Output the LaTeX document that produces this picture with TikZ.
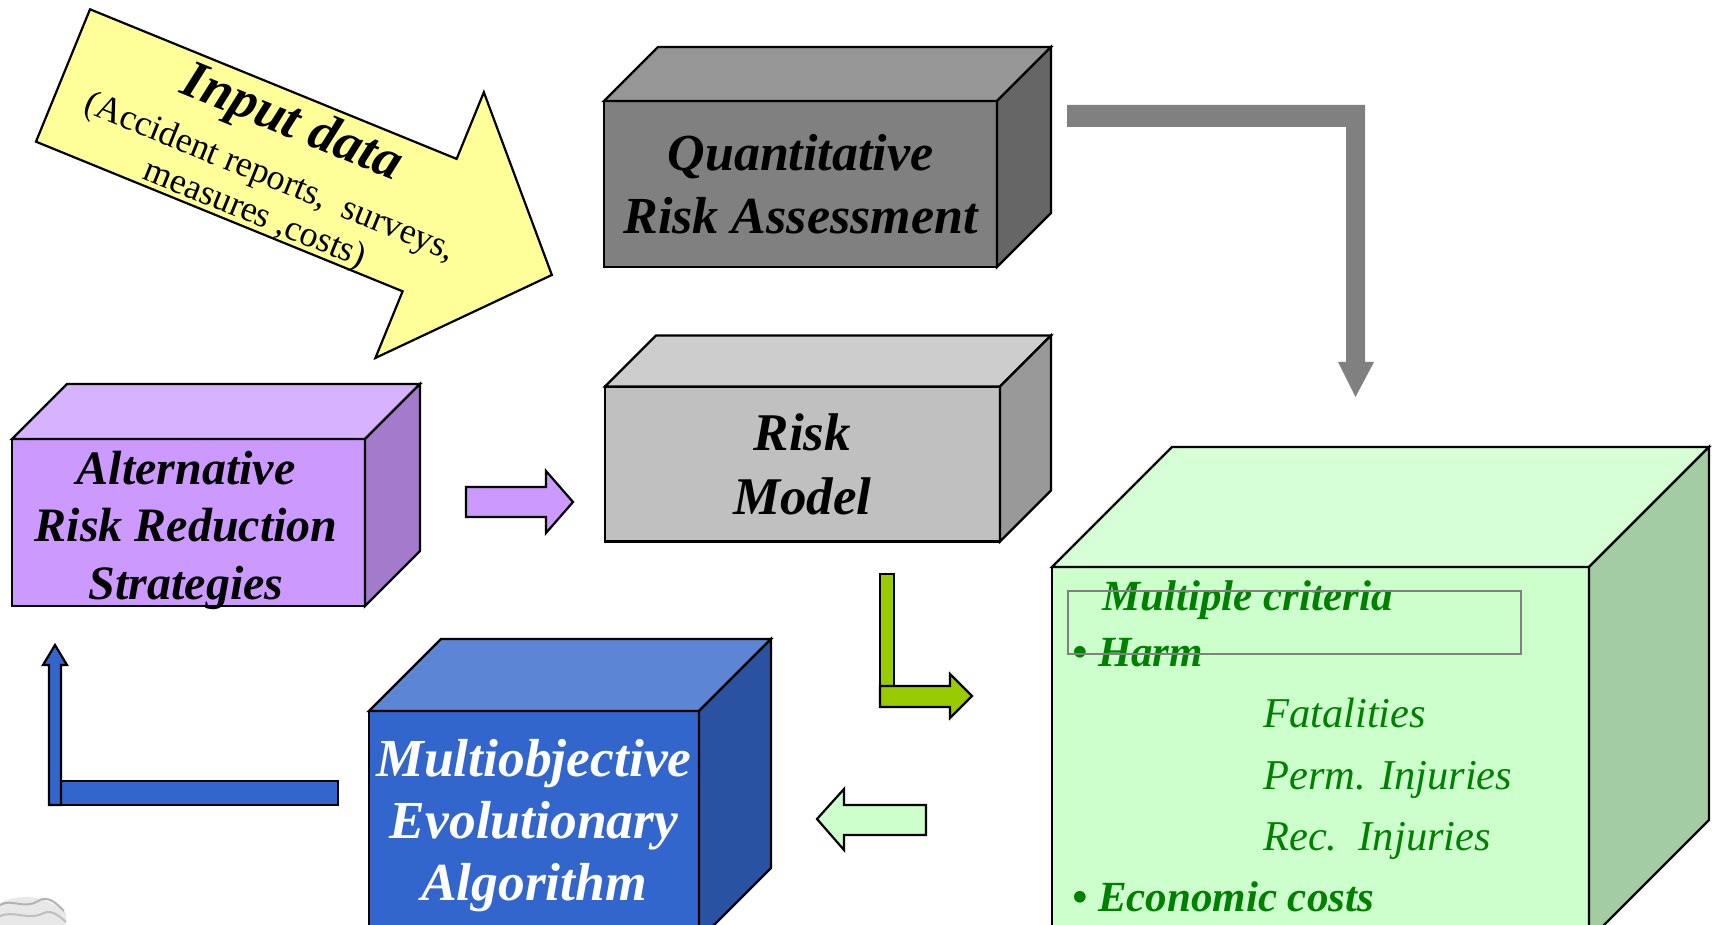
\documentclass[tikz,border=0pt]{standalone}
\usepackage{fontspec}
\setmainfont{Liberation Serif}
\usetikzlibrary{calc}

\definecolor{qrafront}{HTML}{808080}
\definecolor{qratop}{HTML}{969696}
\definecolor{qraside}{HTML}{666666}
\definecolor{rmfront}{HTML}{C0C0C0}
\definecolor{rmtop}{HTML}{CDCDCD}
\definecolor{rmside}{HTML}{999999}
\definecolor{altfront}{HTML}{CC99FF}
\definecolor{alttop}{HTML}{D7B3FF}
\definecolor{altside}{HTML}{A37ACC}
\definecolor{moeafront}{HTML}{3366CC}
\definecolor{moeatop}{HTML}{5C85D6}
\definecolor{moeaside}{HTML}{2952A3}
\definecolor{critfront}{HTML}{CCFFCC}
\definecolor{crittop}{HTML}{D6FFD6}
\definecolor{critside}{HTML}{A3CCA3}
\definecolor{inputyellow}{HTML}{FFFF99}
\definecolor{limegreen}{HTML}{99CC00}
\definecolor{critgreen}{HTML}{008000}

\begin{document}
\begin{tikzpicture}[x=1pt, y=1pt,
      cube/.style={draw, line width=2.2pt, inner sep=0pt, outer sep=0pt, align=center},
      face/.style={draw, line width=2.2pt},
      blockarrow/.style={draw, line width=2.2pt},
      crit/.style={text=critgreen, anchor=base west, inner sep=0pt},
      critbold/.style={crit, font=\bfseries\itshape\fontsize{43}{48}\selectfont},
      critsub/.style={crit, font=\itshape\fontsize{42.5}{48}\selectfont}
    ]
      \clip (0,0) rectangle (1712,925);

      % cube fronts
      \node[cube, fill=qrafront, minimum width=393pt, minimum height=166pt,
            font=\bfseries\itshape\fontsize{52}{63}\selectfont]
        (qra) at (800.5,741) {Quantitative\\Risk Assessment};
      \node[cube, fill=rmfront, minimum width=395pt, minimum height=155pt,
            font=\bfseries\itshape\fontsize{53}{64}\selectfont]
        (rm) at (802.5,461) {Risk\\Model};
      \node[cube, fill=altfront, minimum width=353pt, minimum height=167pt]
        (alt) at (188.5,402.5) {};
      \node[align=center, font=\bfseries\itshape\fontsize{48}{57.5}\selectfont]
        (alttext) at (186,395) {Alternative\\Risk Reduction\\Strategies};
      \node[cube, fill=moeafront, minimum width=330pt, minimum height=229pt,
            text=white, font=\bfseries\itshape\fontsize{53.5}{62}\selectfont]
        (moea) at (534,99.5) {Multiobjective\\Evolutionary\\Algorithm};
      \node[cube, fill=critfront, minimum width=537pt, minimum height=373pt]
        (crit) at (1320.5,171.5) {};

      % top and side faces
      \foreach \n/\d/\t/\s in {qra/54/qratop/qraside, rm/51/rmtop/rmside,
                               alt/55/alttop/altside, moea/72/moeatop/moeaside,
                               crit/120/crittop/critside} {
        \draw[face, fill=\t] (\n.north west) -- ++(\d,\d)
          -- ($(\n.north east)+(\d,\d)$) -- (\n.north east) -- cycle;
        \draw[face, fill=\s] (\n.north east) -- ++(\d,\d)
          -- ($(\n.south east)+(\d,\d)$) -- (\n.south east) -- cycle;
      }

      % criteria list
      \node[critbold] (crittitle) at (1102,314) {Multiple criteria};
      \node[critbold] (harm) at (1072,258) {• Harm};
      \node[critsub] (fatal) at (1263,197) {Fatalities};
      \node[critsub] (perm) at (1263,135) {Perm. Injuries};
      \node[critsub] (rec) at (1263,74) {Rec.\ \ Injuries};
      \node[critbold] (econ) at (1072,13) {• Economic costs};
      \draw[draw=qrafront, line width=2.2pt] (1068,334) rectangle (1521,271);

      % input data arrow
      \begin{scope}[shift={(63,849.5)}, rotate=-22.2]
        \draw[blockarrow, fill=inputyellow] (0,71.5) -- (396,71.5) -- (396,143.5)
          -- (528,0) -- (396,-143.5) -- (396,-71.5) -- (0,-71.5) -- cycle;
        \node[transform shape, align=center, font=\fontsize{36}{40}\selectfont]
          (inputlabel) at (230,-4)
          {{\bfseries\itshape\fontsize{54}{60}\selectfont Input data}\\[13.5pt]
           (Accident reports,\ \ surveys,\\measures ,costs)};
      \end{scope}

      % flow arrows
      \fill[qrafront] (1067,820) -- (1365,820) -- (1365,563) -- (1374,563)
        -- (1355.5,528) -- (1338,563) -- (1346,563) -- (1346,798) -- (1067,798) -- cycle;
      \draw[blockarrow, fill=altfront] (466,438) -- (546,438) -- (546,454)
        -- (573,423) -- (546,392) -- (546,408) -- (466,408) -- cycle;
      \draw[blockarrow, fill=limegreen] (880,239) rectangle (894,351);
      \draw[blockarrow, fill=limegreen] (880,239) -- (950,239) -- (950,251)
        -- (972,229) -- (950,207) -- (950,218) -- (880,218) -- cycle;
      \draw[blockarrow, fill=critfront] (926,120) -- (844,120) -- (844,136)
        -- (817,106) -- (844,75) -- (844,90) -- (926,90) -- cycle;
      \draw[blockarrow, fill=moeafront] (61,120) rectangle (338,144);
      \draw[blockarrow, fill=moeafront] (49,120) -- (49,260) -- (43,260)
        -- (55,280) -- (67,260) -- (61,260) -- (61,120) -- cycle;

      % clip art scrap
      \fill[gray!18] (0,0) -- (0,22) .. controls (20,32) and (46,30) .. (66,12) -- (66,0) -- cycle;
      \draw[gray!60, line width=2pt] (0,20) .. controls (12,27) and (24,15) .. (38,24)
        .. controls (48,30) and (56,22) .. (64,14);
      \draw[gray!50, line width=2pt] (0,9) .. controls (14,15) and (28,4) .. (44,12)
        .. controls (52,16) and (60,8) .. (66,3);
    \end{tikzpicture}
\end{document}
